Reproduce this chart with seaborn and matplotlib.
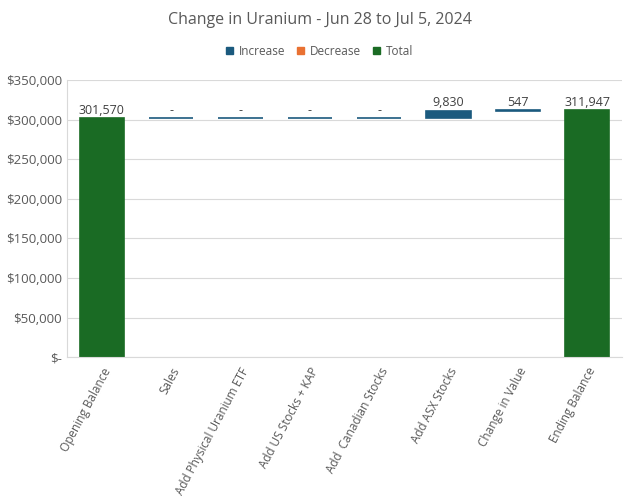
import pandas as pd
import matplotlib.pyplot as plt
import seaborn as sns
from matplotlib.patches import Patch
from matplotlib.ticker import FuncFormatter

# waterfall data
categories = ["Opening Balance", "Sales", "Add Physical Uranium ETF", "Add US Stocks + KAP",
              "Add  Canadian Stocks", "Add ASX Stocks", "Change in Value", "Ending Balance"]
changes = [301570, 0, 0, 0, 0, 9830, 547, 311947]
kinds = ["Total", "Increase", "Increase", "Increase", "Increase", "Increase", "Increase", "Total"]
value_labels = ["301,570", "-", "-", "-", "-", "9,830", "547", "311,947"]

colors = {"Increase": "#1b5a7e", "Decrease": "#e97132", "Total": "#1a6b24"}

# running bottoms for the floating bars
bottoms = []
running = 0
for c, k in zip(changes, kinds):
    if k == "Total":
        bottoms.append(0)
        running = c
    else:
        bottoms.append(running)
        running += c

df = pd.DataFrame({"category": categories, "change": changes, "bottom": bottoms,
                   "kind": kinds, "label": value_labels})

sns.set_style("white")
plt.rcParams["font.family"] = ["Open Sans", "DejaVu Sans"]
text_col = "#595959"

fig = plt.figure(figsize=(6.39, 4.98), dpi=100)
ax = fig.add_axes([0.105, 0.283, 0.868, 0.556])

for kind in ["Increase", "Decrease", "Total"]:
    sub = df[df["kind"] == kind]
    if sub.empty:
        continue
    sns.barplot(data=sub, x="category", y="change", order=categories, ax=ax,
                color=colors[kind], bottom=sub["bottom"].values, width=0.64,
                edgecolor=colors[kind], linewidth=1.2, saturation=1)
    ax.bar_label(ax.containers[-1], labels=list(sub["label"]), padding=1,
                 fontsize=9, color="#404040")

ax.set_ylim(0, 350000)
ax.set_yticks(range(0, 350001, 50000))
ax.yaxis.set_major_formatter(FuncFormatter(lambda v, p: "$-" if v == 0 else f"${v:,.0f}"))
ax.grid(axis="y", color="#d9d9d9", linewidth=0.8)
ax.set_axisbelow(True)
for s in ["top", "right"]:
    ax.spines[s].set_visible(False)
for s in ["left", "bottom"]:
    ax.spines[s].set_color("#d9d9d9")
ax.set_xlabel("")
ax.set_ylabel("")
ax.tick_params(axis="y", length=0, labelsize=9.5, labelcolor=text_col)
ax.tick_params(axis="x", length=0, labelsize=8.5, labelcolor=text_col, pad=6)
plt.setp(ax.get_xticklabels(), rotation=62, ha="right", rotation_mode="anchor")

fig.suptitle("Change in Uranium - Jun 28 to Jul 5, 2024", y=0.975, fontsize=11.5, color=text_col)
handles = [Patch(color=colors[k], label=k) for k in ["Increase", "Decrease", "Total"]]
fig.legend(handles=handles, loc="center", bbox_to_anchor=(0.5, 0.897), ncol=3, frameon=False,
           handlelength=0.6, handleheight=0.6, handletextpad=0.5, columnspacing=1.0,
           fontsize=8.5, labelcolor=text_col)

fig.savefig("out.png", dpi=100)
